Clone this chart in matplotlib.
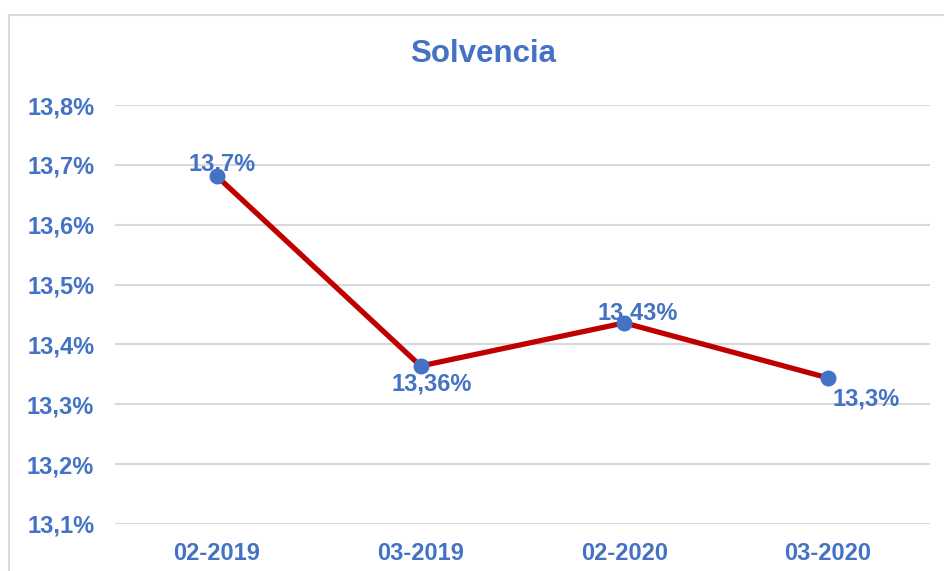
import matplotlib
matplotlib.use("Agg")
import matplotlib.pyplot as plt
from matplotlib.lines import Line2D

plt.rcParams['font.family'] = ['Liberation Sans', 'DejaVu Sans']

categories = ["02-2019", "03-2019", "02-2020", "03-2020"]
values = [13.681, 13.364, 13.436, 13.344]
labels = ["13,7%", "13,36%", "13,43%", "13,3%"]
yticks = [13.1, 13.2, 13.3, 13.4, 13.5, 13.6, 13.7, 13.8]
ytick_labels = ["13,1%", "13,2%", "13,3%", "13,4%", "13,5%", "13,6%", "13,7%", "13,8%"]
label_offsets_px = [(5, 12), (11, -18), (13, 10), (38, -21)]

BLUE = "#4472C4"
RED = "#C00000"
GRID = "#D9D9D9"

fig = plt.figure(figsize=(9.45, 5.71), dpi=100)
ax = fig.add_axes([115/945, 47/571, (930-115)/945, (524-105)/571])

x = list(range(len(categories)))
ax.plot(x, values, color=RED, lw=3.8, zorder=3, solid_capstyle='butt')
ax.plot(x, values, 'o', color=BLUE, ms=10.5, zorder=4)

for xi, v, lab, (dx, dy) in zip(x, values, labels, label_offsets_px):
    ax.annotate(lab, (xi, v), xytext=(dx*0.72, dy*0.72), textcoords='offset points',
                ha='center', va='center', color=BLUE, fontsize=17, fontweight='bold', zorder=2)

ax.set_xlim(-0.5, 3.5)
ax.set_ylim(13.1, 13.8)
ax.set_yticks(yticks)
ax.set_yticklabels(ytick_labels)
ax.set_xticks(x)
ax.set_xticklabels(categories)
for t in ax.get_yticklabels() + ax.get_xticklabels():
    t.set_color(BLUE)
    t.set_fontsize(17)
    t.set_fontweight('bold')
ax.tick_params(axis='y', length=0, pad=15)
ax.tick_params(axis='x', length=0, pad=13)
ax.grid(axis='y', color=GRID, lw=1.5, zorder=0)
ax.set_axisbelow(True)
for s in ax.spines.values():
    s.set_visible(False)

fig.text(483/945, 1-54/571, "Solvencia", ha='center', va='center', color=BLUE,
         fontsize=22.5, fontweight='bold')

# outer chart border (left and top visible)
fig.add_artist(Line2D([9.5/945, 9.5/945], [0, 1-15/571], transform=fig.transFigure, color=GRID, lw=1.5))
fig.add_artist(Line2D([9.5/945, 1], [1-15/571, 1-15/571], transform=fig.transFigure, color=GRID, lw=1.5))

fig.savefig("out.png", dpi=100)
